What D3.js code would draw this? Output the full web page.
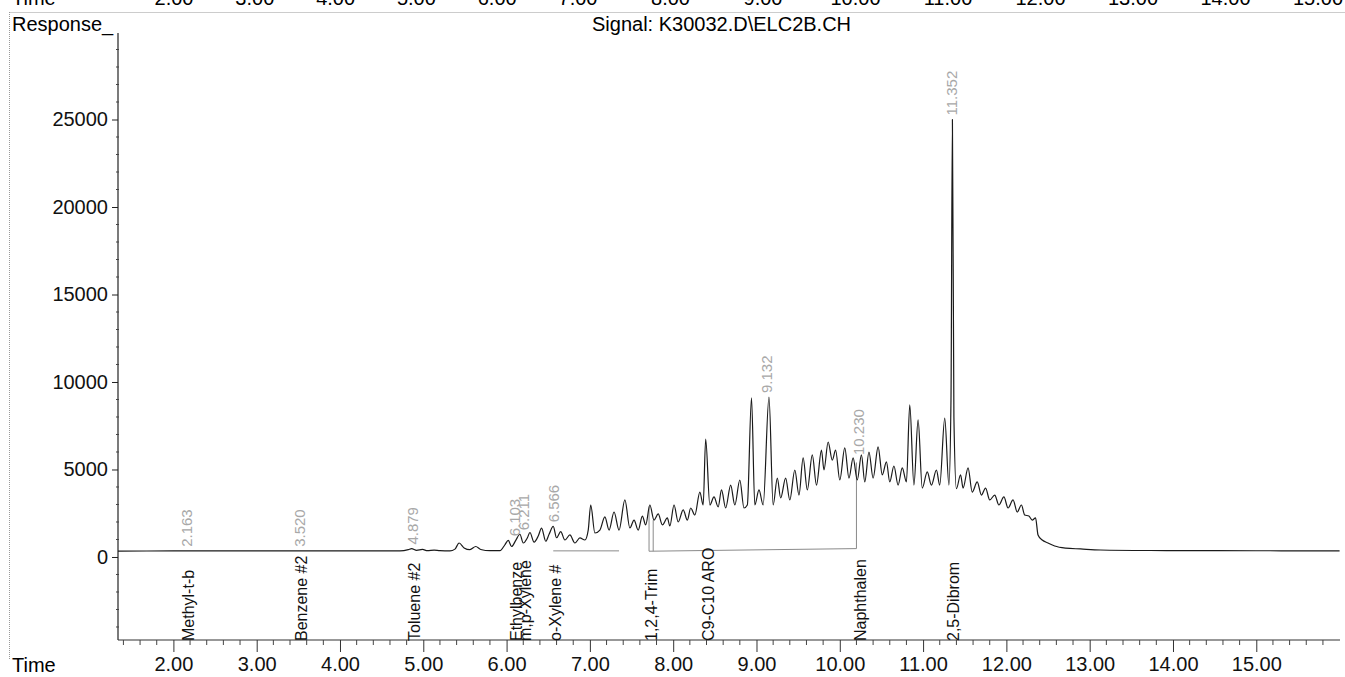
<!DOCTYPE html>
<html>
<head>
<meta charset="utf-8">
<script src="https://cdn.jsdelivr.net/npm/d3@7"></script>
<style>
  html, body { margin: 0; padding: 0; background: #fff; }
  svg { display: block; font-family: "Liberation Sans", Arial, Helvetica, sans-serif; }
</style>
</head>
<body>
<svg id="chart" width="1345" height="677"></svg>
<script>
// Chromatogram trace: retention time (min) and detector response
const traceTime = [
  1.335, 2.0, 3.0, 4.0, 4.72, 4.82, 4.86, 4.92, 4.99, 5.05, 5.13, 5.2, 5.32, 5.38, 5.43, 5.49, 5.56, 5.63, 5.69, 5.8,
  5.92, 5.98, 6.02, 6.06, 6.11, 6.16, 6.2, 6.25, 6.28, 6.33, 6.38, 6.42, 6.47, 6.51, 6.56, 6.6, 6.65,
  6.70, 6.76, 6.82, 6.88, 6.94, 6.98, 7.01, 7.06, 7.12, 7.18, 7.23, 7.29, 7.35, 7.42, 7.48, 7.53, 7.58, 7.63, 7.67, 7.72,
  7.77, 7.82, 7.87, 7.93, 7.96, 8.01, 8.06, 8.12, 8.17, 8.21, 8.26, 8.32, 8.36, 8.39, 8.44, 8.49, 8.54, 8.58, 8.63, 8.69,
  8.74, 8.80, 8.85, 8.89, 8.94, 8.98, 9.03, 9.08, 9.15, 9.20, 9.25, 9.29, 9.35, 9.40, 9.46, 9.51, 9.56, 9.61, 9.67, 9.72,
  9.78, 9.81, 9.86, 9.91, 9.95, 10.00, 10.06, 10.11, 10.16, 10.21, 10.26, 10.30, 10.35, 10.40, 10.46, 10.51, 10.56, 10.60, 10.65, 10.70,
  10.75, 10.80, 10.84, 10.89, 10.94, 10.99, 11.05, 11.10, 11.16, 11.20, 11.26, 11.31, 11.335, 11.352, 11.37, 11.40, 11.45, 11.48, 11.54, 11.59,
  11.65, 11.70, 11.75, 11.80, 11.86, 11.91, 11.97, 12.02, 12.08, 12.13, 12.18, 12.22, 12.27, 12.31, 12.35, 12.38, 12.43, 12.50, 12.58, 12.71,
  12.89, 13.13, 13.73, 14.5, 15.3, 16.0
];
const traceResp = [
  340, 345, 345, 350, 350, 420, 480, 380, 430, 360, 390, 360, 350, 450, 800, 520, 420, 600, 430, 360,
  360, 700, 950, 600, 950, 1300, 800, 1100, 1400, 850, 1200, 1650, 900, 1300, 1750, 1100, 1450,
  970, 1260, 800, 1090, 970, 1540, 2970, 1370, 1540, 2290, 1540, 2570, 1540, 3260, 1660, 2110, 1540, 2340, 1830, 2970,
  2110, 2460, 1830, 2230, 1770, 2970, 2000, 2690, 2110, 2800, 2400, 3710, 2970, 6740, 2970, 3430, 2860, 3830, 2800, 4110,
  2970, 4400, 2800, 2970, 9090, 2970, 3830, 2970, 9140, 2970, 4510, 3370, 4510, 3260, 4970, 3540, 5660, 3830, 5830, 4110,
  6110, 4970, 6570, 5540, 6110, 4400, 6230, 4510, 5660, 4400, 5830, 4290, 6000, 4510, 6290, 4690, 5430, 4290, 5200, 4110,
  5090, 4290, 8690, 4110, 7830, 3940, 4860, 4110, 4970, 4110, 7940, 4110, 9000, 25000, 8000, 3900, 4700, 3940, 5090, 3710,
  4290, 3540, 3940, 3260, 3540, 2970, 3430, 2800, 3260, 2570, 2970, 2400, 2340, 2110, 2230, 1260, 970, 800, 630, 510,
  460, 400, 370, 360, 355, 350
];

// Tick values
const xMajorTicks = [2, 3, 4, 5, 6, 7, 8, 9, 10, 11, 12, 13, 14, 15];
const yMajorTicks = [0, 5000, 10000, 15000, 20000, 25000];
const topStripLabels = ["2.00", "3.00", "4.00", "5.00", "6.00", "7.00", "8.00", "9.00", "10.00", "11.00", "12.00", "13.00", "14.00", "15.00"];

// Identified compounds (name at retention time)
const compoundNames = ["Methyl-t-b", "Benzene #2", "Toluene #2", "Ethylbenze", "m,p-Xylene", "o-Xylene #", "1,2,4-Trim", "C9-C10 ARO", "Naphthalen", "2,5-Dibrom"];
const compoundTimes = [2.163, 3.520, 4.879, 6.103, 6.211, 6.566, 7.72, 8.40, 10.230, 11.352];

// Retention-time annotations above peaks
const rtLabelTimes = [2.163, 3.520, 4.879, 6.103, 6.211, 6.566, 9.132, 10.230, 11.352];
const rtLabelResp = [350, 350, 480, 950, 1300, 1750, 9140, 5600, 25000];

// Integration baseline segments [t0, r0, t1, r1]
const baseSegments = [
  [6.56, 350, 7.35, 350],
  [7.71, 330, 10.20, 480],
  [7.71, 330, 7.71, 2900],
  [7.76, 330, 7.76, 2100],
  [10.20, 480, 10.20, 5400]
];

const svg = d3.select("#chart");
const W = 1345;

const x = d3.scaleLinear().domain([1.335, 16.005]).range([118, 1340]);
const y = d3.scaleLinear().domain([-4743, 29943]).range([640, 33]);

// page frame (dotted)
svg.append("line").attr("x1", 9.5).attr("x2", 9.5).attr("y1", 12).attr("y2", 660)
  .attr("stroke", "#999").attr("stroke-width", 1).attr("stroke-dasharray", "1,1");
svg.append("line").attr("x1", 9.5).attr("x2", W).attr("y1", 12.5).attr("y2", 12.5)
  .attr("stroke", "#999").attr("stroke-width", 1).attr("stroke-dasharray", "1,1");

// time axis labels of the panel above, cut by the page edge
const topScale = d3.scaleLinear().domain([2, 7, 15]).range([174, 578, 1318]);
svg.append("text").attr("x", 12).attr("y", 5).attr("font-size", 20).text("Time");
svg.selectAll("text.top").data(topStripLabels).join("text")
  .attr("class", "top")
  .attr("x", (d, i) => topScale(xMajorTicks[i]))
  .attr("y", 5).attr("font-size", 20).attr("text-anchor", "middle").text(d => d);

// headers
svg.append("text").attr("x", 12).attr("y", 31).attr("font-size", 20).text("Response_");
svg.append("text").attr("x", 592).attr("y", 31).attr("font-size", 20).text("Signal: K30032.D\\ELC2B.CH");
svg.append("text").attr("x", 12).attr("y", 672).attr("font-size", 20).text("Time");

// y axis
const yAxis = svg.append("g").attr("transform", "translate(118,0)");
yAxis.append("line").attr("x1", 0).attr("x2", 0).attr("y1", y.range()[1]).attr("y2", y.range()[0])
  .attr("stroke", "#222").attr("stroke-width", 1.2);
yAxis.call(g => {
  const ax = d3.axisLeft(y).tickValues(yMajorTicks).tickSize(6).tickPadding(4).tickFormat(d3.format("d"));
  g.call(ax);
  g.select(".domain").remove();
  g.selectAll("text").attr("font-size", 20).attr("fill", "#111").attr("font-family", "Liberation Sans, Arial, sans-serif");
  g.selectAll("line").attr("stroke", "#222");
});
const yMinor = d3.range(-4000, 29001, 1000).filter(v => v % 5000 !== 0);
yAxis.selectAll("line.minor").data(yMinor).join("line").attr("class", "minor")
  .attr("x1", -2).attr("x2", 1).attr("y1", d => y(d)).attr("y2", d => y(d))
  .attr("stroke", "#444").attr("stroke-width", 1);

// x axis
const xAxis = svg.append("g").attr("transform", "translate(0,640)");
xAxis.append("line").attr("x1", 118).attr("x2", 1340).attr("y1", 0).attr("y2", 0)
  .attr("stroke", "#222").attr("stroke-width", 1.2);
xAxis.call(g => {
  const ax = d3.axisBottom(x).tickValues(xMajorTicks).tickSize(12).tickPadding(5).tickFormat(d3.format(".2f"));
  g.call(ax);
  g.select(".domain").remove();
  g.selectAll("text").attr("font-size", 20).attr("fill", "#111").attr("font-family", "Liberation Sans, Arial, sans-serif");
  g.selectAll("line").attr("stroke", "#333");
});
const xMinor = d3.range(1.4, 16.0, 0.2).filter(t => Math.abs(t - Math.round(t)) > 0.01);
xAxis.selectAll("line.minor").data(xMinor).join("line").attr("class", "minor")
  .attr("x1", d => x(d)).attr("x2", d => x(d)).attr("y1", 0).attr("y2", 5)
  .attr("stroke", "#444").attr("stroke-width", 1);

// integration baselines
svg.selectAll("line.base").data(baseSegments).join("line").attr("class", "base")
  .attr("x1", d => x(d[0])).attr("y1", d => y(d[1])).attr("x2", d => x(d[2])).attr("y2", d => y(d[3]))
  .attr("stroke", "#8a8a8a").attr("stroke-width", 1);

// chromatogram trace
const pts = traceTime.map((t, i) => [t, traceResp[i]]);
svg.append("path").datum(pts)
  .attr("d", d3.line().x(d => x(d[0])).y(d => y(d[1])).curve(d3.curveMonotoneX))
  .attr("fill", "none").attr("stroke", "#1a1a1a").attr("stroke-width", 1.2);

// retention time labels (grey, vertical)
svg.selectAll("text.rt").data(rtLabelTimes).join("text").attr("class", "rt")
  .attr("transform", (d, i) => `translate(${x(d) + 5},${y(rtLabelResp[i]) - 4}) rotate(-90)`)
  .attr("font-size", 15).attr("fill", "#a8a8a8").text(d => d.toFixed(3));

// compound names (vertical, resting on the time axis)
svg.selectAll("text.cmp").data(compoundNames).join("text").attr("class", "cmp")
  .attr("transform", (d, i) => `translate(${x(compoundTimes[i]) + 7},641) rotate(-90)`)
  .attr("font-size", 16).attr("fill", "#111").text(d => d);
</script>
</body>
</html>
